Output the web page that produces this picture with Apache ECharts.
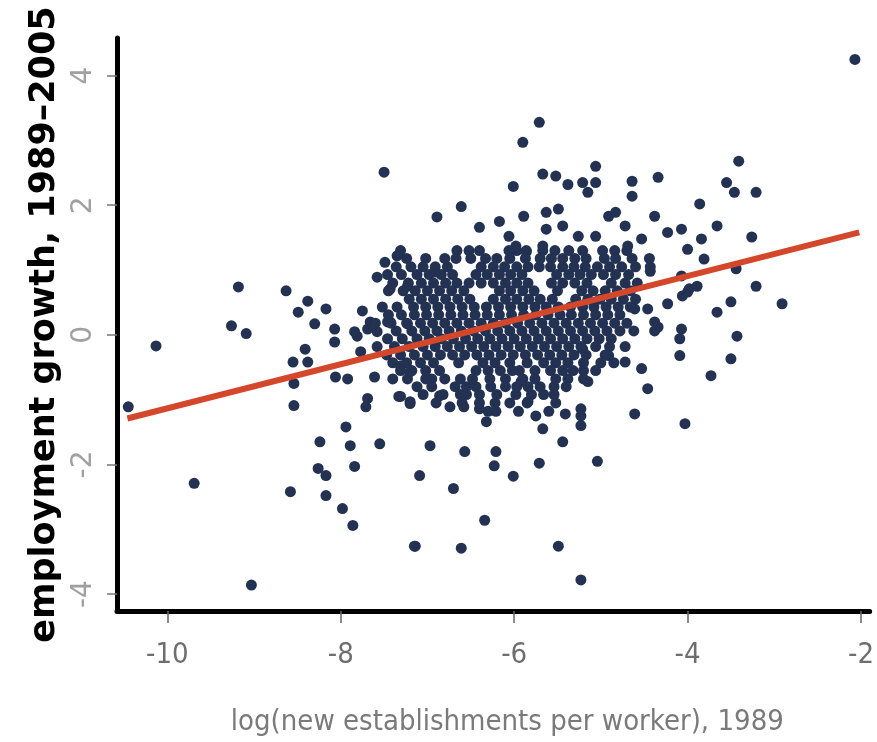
<!DOCTYPE html>
<html>
<head>
<meta charset="utf-8">
<script src="https://cdn.jsdelivr.net/npm/echarts@6/dist/echarts.min.js"></script>
<style>
  html, body { margin: 0; padding: 0; background: #ffffff; }
  #chart { width: 877px; height: 742px; }
</style>
</head>
<body>
<div id="chart"></div>
<script>
// Axis ticks
const xTicks = [-10, -8, -6, -4, -2];
const yTicks = [-4, -2, 0, 2, 4];

// Isolated observations [log new establishments per worker, employment growth]
const sparsePoints = [
  [-10.45, -1.11], [-10.13, -0.17], [-9.69, -2.29], [-9.18, 0.74], [-9.26, 0.14],
  [-9.09, 0.02], [-9.03, -3.86], [-8.63, 0.68], [-8.58, -2.42], [-8.54, -1.09],
  [-8.54, -0.75], [-8.55, -0.42], [-8.41, -0.22], [-8.38, -0.42], [-8.38, 0.52],
  [-8.49, 0.35], [-8.17, 0.40], [-8.30, 0.17], [-8.07, 0.09], [-8.07, -0.11],
  [-8.24, -1.65], [-8.26, -2.06], [-8.17, -2.17], [-8.17, -2.48], [-7.98, -2.68],
  [-7.86, -2.94], [-7.94, -1.42], [-7.89, -1.71], [-7.84, -2.03], [-7.55, -1.68],
  [-7.15, -3.26], [-8.06, -0.65], [-7.92, -0.68], [-7.69, -0.98], [-7.71, -1.11],
  [-7.61, -0.65], [-7.33, -0.95], [-7.20, -1.06], [-7.81, -0.02], [-7.69, 0.09],
  [-7.58, 0.05], [-7.43, 0.20], [-7.23, 0.17], [-7.77, -0.26], [-7.31, -0.48],
  [-7.20, -0.57], [-7.75, 0.37], [-7.66, 0.20], [-7.46, 0.20], [-7.84, 0.05],
  [-7.50, 2.51], [-7.35, 1.22], [-7.49, 1.12], [-7.58, 0.89], [-7.43, 0.71],
  [-7.23, 0.75],
  [-5.71, 3.28], [-5.90, 2.97], [-6.01, 2.29], [-5.67, 2.48], [-5.52, 2.45],
  [-5.38, 2.32], [-5.21, 2.35], [-5.06, 2.60], [-5.06, 2.35], [-5.15, 2.20],
  [-4.64, 2.37], [-4.64, 2.14], [-4.34, 2.43], [-6.61, 1.98], [-6.89, 1.82],
  [-6.40, 1.66], [-6.17, 1.75], [-5.89, 1.83], [-5.63, 1.89], [-5.49, 1.94],
  [-5.63, 1.63], [-5.44, 1.68], [-5.26, 1.52], [-5.06, 1.52], [-4.91, 1.83],
  [-4.83, 1.89], [-4.72, 1.68], [-4.53, 1.48], [-4.38, 1.83], [-4.23, 1.58],
  [-4.07, 1.63], [-4.00, 1.32], [-6.91, 0.97], [-6.06, 1.52], [-5.98, 1.37],
  [-5.86, 1.28], [-5.67, 1.37], [-4.69, 1.37], [-4.43, 0.98], [-4.23, 0.48],
  [-4.07, 0.91], [-4.00, 0.66], [-4.46, 0.40], [-4.34, 0.12], [-4.07, 0.09],
  [-2.07, 4.25], [-3.41, 2.68], [-3.55, 2.35], [-3.46, 2.20], [-3.21, 2.20],
  [-3.86, 2.02], [-3.66, 1.68], [-3.84, 1.48], [-3.26, 1.51], [-3.81, 1.17],
  [-3.44, 1.02], [-3.21, 0.75], [-3.98, 0.71], [-3.89, 0.75], [-4.06, 0.60],
  [-3.50, 0.51], [-3.66, 0.35], [-2.91, 0.48], [-4.38, 0.20], [-4.61, 0.40],
  [-3.43, -0.02], [-3.50, -0.37], [-3.73, -0.63], [-4.09, -0.06], [-4.09, -0.32],
  [-4.38, 0.06], [-4.53, -0.52], [-4.46, -0.83], [-4.61, -1.22], [-4.03, -1.37],
  [-5.15, -0.72], [-5.23, -1.25], [-5.04, -1.95], [-4.91, -0.32], [-4.72, -0.42],
  [-5.21, -0.22],
  [-6.97, -1.71], [-7.09, -2.17], [-6.70, -2.37], [-6.57, -1.80], [-6.21, -1.80],
  [-6.23, -2.02], [-6.01, -2.18], [-5.71, -1.98], [-5.44, -1.65], [-6.34, -2.86],
  [-7.14, -3.26], [-6.61, -3.29], [-5.49, -3.26], [-5.23, -3.78], [-5.41, -1.22],
  [-5.23, -1.14], [-5.23, -1.40], [-5.67, -1.45], [-5.75, -1.25], [-5.84, -1.03],
  [-5.92, -0.72], [-6.32, -1.34], [-6.21, -1.18], [-6.40, -1.14], [-6.74, -1.11],
  [-6.58, -1.11], [-6.86, -0.94], [-7.20, -1.03], [-7.31, -0.95]
];

// Dense core of the cloud: each row is [employment growth, [log new establishments ...]]
const coreRows = [
  [1.30, [-7.31, -6.66, -6.52, -6.40, -6.06, -5.97, -5.86, -5.67, -5.53, -5.37, -5.21, -4.98, -4.84, -4.70]],
  [1.18, [-7.24, -7.02, -6.80, -6.67, -6.50, -6.33, -6.20, -6.05, -5.87, -5.70, -5.57, -5.44, -5.30, -5.17, -4.96, -4.83, -4.64, -4.44]],
  [1.05, [-7.36, -7.19, -7.05, -6.91, -6.77, -6.38, -6.24, -6.11, -5.97, -5.84, -5.71, -5.58, -5.44, -5.31, -5.18, -5.04, -4.90, -4.76, -4.60, -4.43]],
  [0.93, [-7.46, -7.30, -7.12, -6.98, -6.84, -6.71, -6.44, -6.31, -6.17, -6.04, -5.91, -5.51, -5.37, -5.24, -5.11, -4.97, -4.83, -4.68]],
  [0.80, [-7.40, -7.22, -7.07, -6.93, -6.79, -6.66, -6.52, -6.38, -6.24, -6.10, -5.97, -5.84, -5.57, -5.44, -5.30, -5.16, -4.88, -4.72, -4.58]],
  [0.68, [-7.45, -7.28, -7.14, -7.00, -6.86, -6.72, -6.58, -6.17, -6.04, -5.90, -5.77, -5.50, -5.22, -5.09, -4.95, -4.81, -4.66]],
  [0.55, [-7.21, -7.07, -6.93, -6.79, -6.65, -6.51, -6.24, -6.10, -5.97, -5.83, -5.70, -5.56, -5.29, -5.15, -5.01, -4.88, -4.74, -4.60]],
  [0.43, [-7.52, -7.35, -7.16, -7.02, -6.88, -6.74, -6.60, -6.46, -6.32, -6.18, -6.04, -5.90, -5.76, -5.63, -5.49, -5.35, -5.21, -5.08, -4.94, -4.80, -4.66]],
  [0.31, [-7.45, -7.30, -7.15, -7.01, -6.87, -6.73, -6.59, -6.45, -6.31, -6.17, -6.03, -5.89, -5.75, -5.61, -5.47, -5.34, -5.20, -5.06, -4.92, -4.78]],
  [0.18, [-7.60, -7.42, -7.24, -7.08, -6.94, -6.80, -6.66, -6.52, -6.38, -6.24, -6.10, -5.96, -5.82, -5.68, -5.54, -5.40, -5.26, -5.12, -4.98, -4.84, -4.70]],
  [0.06, [-7.36, -7.18, -7.03, -6.89, -6.75, -6.61, -6.47, -6.33, -6.19, -6.05, -5.91, -5.77, -5.63, -5.49, -5.35, -5.21, -5.07, -4.93, -4.78, -4.62]],
  [-0.06, [-7.46, -7.29, -7.12, -6.98, -6.84, -6.70, -6.56, -6.42, -6.28, -6.14, -6.00, -5.86, -5.72, -5.58, -5.44, -5.30, -5.16, -5.02, -4.88]],
  [-0.18, [-7.58, -7.38, -7.21, -7.05, -6.91, -6.77, -6.63, -6.49, -6.35, -6.21, -6.07, -5.93, -5.79, -5.65, -5.51, -5.37, -5.23, -5.06, -4.90, -4.72]],
  [-0.31, [-7.47, -7.31, -7.15, -7.00, -6.85, -6.71, -6.57, -6.43, -6.29, -6.15, -6.01, -5.87, -5.73, -5.59, -5.45, -5.31, -5.17, -4.95]],
  [-0.43, [-7.40, -7.24, -7.08, -6.93, -6.64, -6.36, -6.22, -6.05, -5.85, -5.66, -5.52, -5.38, -5.20, -5.00, -4.85]],
  [-0.55, [-7.31, -7.18, -7.02, -6.86, -6.44, -6.30, -6.16, -6.02, -5.94, -5.76, -5.58, -5.44, -5.32, -5.20, -5.06]],
  [-0.68, [-7.40, -7.23, -7.02, -6.95, -6.80, -6.62, -6.48, -6.28, -6.10, -5.90, -5.76, -5.52, -5.38, -5.20]],
  [-0.80, [-7.12, -6.95, -6.68, -6.55, -6.44, -6.27, -6.10, -5.97, -5.84, -5.70, -5.54, -5.40]],
  [-0.92, [-7.05, -6.82, -6.62, -6.55, -6.40, -6.20, -5.98, -5.80, -5.66, -5.54]],
  [-1.05, [-6.90, -6.60, -6.40, -6.22, -6.05, -5.85, -5.52]],
  [-1.18, [-6.30, -5.95, -5.60]]
];

// Fitted regression line, drawn between its two end values
const fitX = [-10.46, -2.02];
const fitY = [-1.29, 1.58];

const points = sparsePoints.slice();
coreRows.forEach(function (row) {
  row[1].forEach(function (x) { points.push([x, row[0]]); });
});
const fitData = fitX.map(function (x, i) { return [x, fitY[i]]; });

const labelFont = "'DejaVu Sans Condensed', 'Liberation Sans', sans-serif";

const chart = echarts.init(document.getElementById('chart'), null, { renderer: 'canvas' });
chart.setOption({
  animation: false,
  backgroundColor: '#ffffff',
  grid: { left: 117, right: 0, top: 38, bottom: 129, containLabel: false },
  xAxis: {
    type: 'value',
    min: -10.58,
    max: -1.9,
    name: 'log(new establishments per worker), 1989',
    nameLocation: 'middle',
    nameGap: 97,
    nameTextStyle: { fontFamily: labelFont, fontSize: 29, color: '#7a7a7a', padding: [0, 0, 0, 28] },
    splitLine: { show: false },
    axisLine: { show: true, onZero: false, lineStyle: { color: '#000000', width: 5 } },
    axisTick: { show: true, customValues: xTicks, length: 12, lineStyle: { color: '#666666', width: 1.5 } },
    axisLabel: {
      customValues: xTicks, margin: 30,
      fontFamily: labelFont, fontSize: 29, color: '#6e6e6e'
    }
  },
  yAxis: {
    type: 'value',
    min: -4.26,
    max: 4.58,
    name: 'employment growth, 1989\u20132005',
    nameLocation: 'middle',
    nameGap: 37,
    nameTextStyle: { fontFamily: 'DejaVu Sans', fontWeight: 'bold', fontSize: 35, color: '#000000' },
    splitLine: { show: false },
    axisLine: { show: true, onZero: false, lineStyle: { color: '#000000', width: 5 } },
    axisTick: { show: true, customValues: yTicks, length: 10, lineStyle: { color: '#777777', width: 1.5 } },
    axisLabel: {
      customValues: yTicks, rotate: 90, margin: 19,
      fontFamily: 'DejaVu Sans', fontSize: 28, color: '#a0a0a0'
    }
  },
  series: [
    {
      type: 'scatter',
      data: points,
      symbol: 'circle',
      symbolSize: 11,
      itemStyle: { color: '#233152', opacity: 1 },
      z: 2
    },
    {
      type: 'line',
      data: fitData,
      symbol: 'none',
      lineStyle: { color: '#d4472a', width: 6 },
      z: 3
    }
  ]
});
</script>
</body>
</html>
